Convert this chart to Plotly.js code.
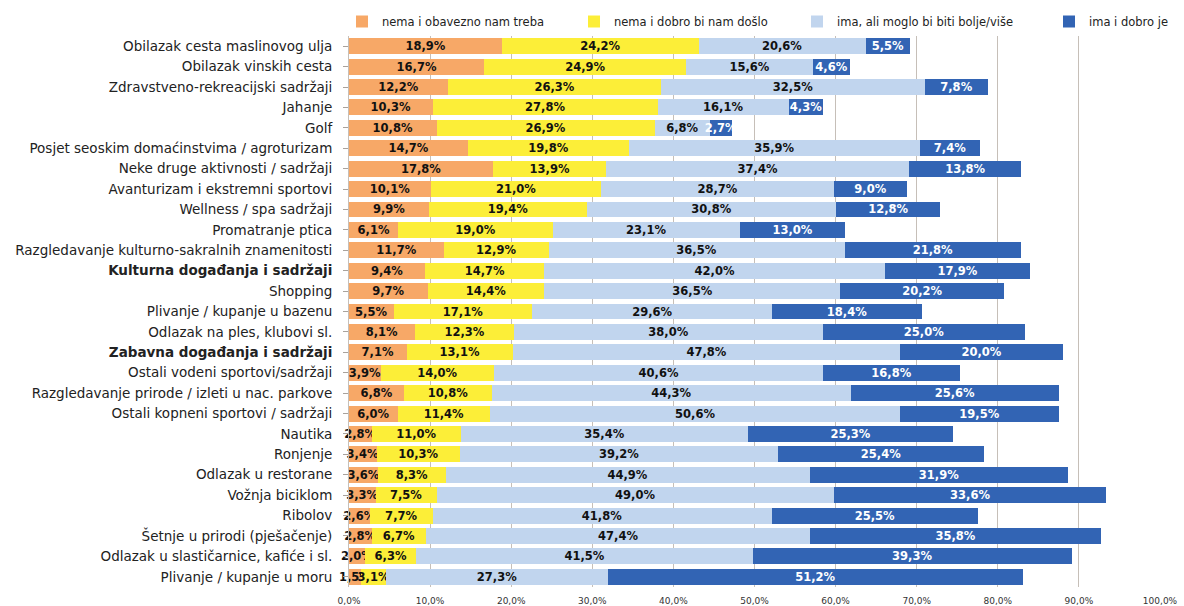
<!DOCTYPE html>
<html>
<head>
<meta charset="utf-8">
<script src="https://cdn.plot.ly/plotly-3.0.1.min.js"></script>
<style>html,body{margin:0;padding:0;background:#fff;}#chart{width:1184px;height:606px;}</style>
</head>
<body>
<div id="chart"></div>
<script>
const categories = [
  "Obilazak cesta maslinovog ulja",
  "Obilazak vinskih cesta",
  "Zdravstveno-rekreacijski sadržaji",
  "Jahanje",
  "Golf",
  "Posjet seoskim domaćinstvima / agroturizam",
  "Neke druge aktivnosti / sadržaji",
  "Avanturizam i ekstremni sportovi",
  "Wellness / spa sadržaji",
  "Promatranje ptica",
  "Razgledavanje kulturno-sakralnih znamenitosti",
  "Kulturna događanja i sadržaji",
  "Shopping",
  "Plivanje / kupanje u bazenu",
  "Odlazak na ples, klubovi sl.",
  "Zabavna događanja i sadržaji",
  "Ostali vodeni sportovi/sadržaji",
  "Razgledavanje prirode / izleti u nac. parkove",
  "Ostali kopneni sportovi / sadržaji",
  "Nautika",
  "Ronjenje",
  "Odlazak u restorane",
  "Vožnja biciklom",
  "Ribolov",
  "Šetnje u prirodi (pješačenje)",
  "Odlazak u slastičarnice, kafiće i sl.",
  "Plivanje / kupanje u moru"
];
const seriesNames = ["nema i obavezno nam treba", "nema i dobro bi nam došlo", "ima, ali moglo bi biti bolje/više", "ima i dobro je"];
const nemaObavezno = [18.9,16.7,12.2,10.3,10.8,14.7,17.8,10.1,9.9,6.1,11.7,9.4,9.7,5.5,8.1,7.1,3.9,6.8,6.0,2.8,3.4,3.6,3.3,2.6,2.8,2.0,1.5];
const nemaDobro    = [24.2,24.9,26.3,27.8,26.9,19.8,13.9,21.0,19.4,19.0,12.9,14.7,14.4,17.1,12.3,13.1,14.0,10.8,11.4,11.0,10.3,8.3,7.5,7.7,6.7,6.3,3.1];
const imaBolje     = [20.6,15.6,32.5,16.1,6.8,35.9,37.4,28.7,30.8,23.1,36.5,42.0,36.5,29.6,38.0,47.8,40.6,44.3,50.6,35.4,39.2,44.9,49.0,41.8,47.4,41.5,27.3];
const imaDobro     = [5.5,4.6,7.8,4.3,2.7,7.4,13.8,9.0,12.8,13.0,21.8,17.9,20.2,18.4,25.0,20.0,16.8,25.6,19.5,25.3,25.4,31.9,33.6,25.5,35.8,39.3,51.2];
const xTicks = [0,10,20,30,40,50,60,70,80,90,100];
const boldCategories = ["Kulturna događanja i sadržaji", "Zabavna događanja i sadržaji"];

const colors = ["#F7A867", "#FCEE38", "#C1D5EE", "#3264B4"];
const textColors = ["#111", "#111", "#111", "#ffffff"];
const values = [nemaObavezno, nemaDobro, imaBolje, imaDobro];
const legendIds = ["legend", "legend2", "legend3", "legend4"];
const legendTextX = [369, 601, 824, 1076];

const traces = values.map((v, i) => ({
  type: "bar",
  orientation: "h",
  name: seriesNames[i],
  legend: legendIds[i],
  y: categories,
  x: v,
  marker: {color: colors[i], line: {width: 0}},
  texttemplate: "%{x:.1f}%",
  textposition: "inside",
  insidetextanchor: "middle",
  constraintext: "none",
  textangle: 0,
  cliponaxis: false,
  textfont: {family: "DejaVu Sans", size: 11.5, color: textColors[i], weight: "bold"},
  hoverinfo: "skip"
}));

const W = 1184, H = 606;
const layout = {
  width: W, height: H,
  separators: ",.",
  barmode: "stack",
  bargap: 0.22,
  margin: {l: 349, r: 24, t: 27, b: 19, pad: 0},
  paper_bgcolor: "#fff",
  plot_bgcolor: "#fff",
  font: {family: "DejaVu Sans", color: "#222"},
  showlegend: true,
  xaxis: {
    range: [0, 100],
    tickmode: "array",
    tickvals: xTicks,
    ticktext: xTicks.map(t => t.toFixed(1).replace(".", ",") + "%"),
    tickfont: {size: 9, color: "#333"},
    ticklabelstandoff: 7,
    showgrid: true, gridcolor: "#C6BFB8", gridwidth: 1,
    zeroline: false,
    showline: false,
    fixedrange: true
  },
  yaxis: {
    type: "category",
    autorange: "reversed",
    tickmode: "array",
    tickvals: categories,
    ticktext: categories.map(c => boldCategories.includes(c) ? "<b>" + c + "</b>" : c),
    tickfont: {size: 13.5, color: "#222"},
    ticks: "outside", ticklen: 5, tickcolor: "#A8A29C",
    ticklabelstandoff: 8,
    showline: true, linecolor: "#C6BFB8",
    showgrid: false,
    fixedrange: true
  }
};
legendIds.forEach((id, i) => {
  layout[id] = {
    orientation: "h",
    xref: "container", yref: "container",
    x: (legendTextX[i] - 27) / W, xanchor: "left",
    y: 1 - 7 / H, yanchor: "top",
    font: {size: 11.5, color: "#222"},
    itemwidth: 30,
    bgcolor: "rgba(0,0,0,0)",
    borderwidth: 0
  };
});

Plotly.newPlot("chart", traces, layout, {displayModeBar: false, staticPlot: true});
</script>
</body>
</html>
